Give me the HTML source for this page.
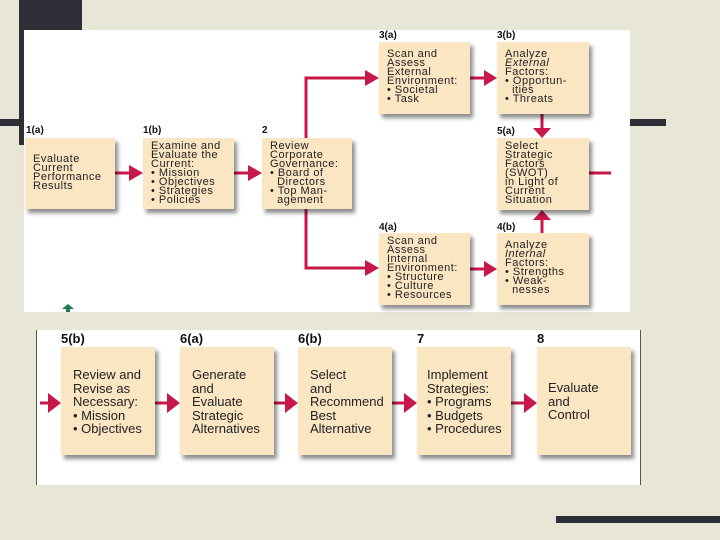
<!DOCTYPE html>
<html><head><meta charset="utf-8"><style>
body{margin:0;width:720px;height:540px;position:relative;overflow:hidden;background:#e8e6d7;font-family:"Liberation Sans",sans-serif;}
div{position:absolute;box-sizing:border-box}
.bar{background:#2e2f36}
.box{background:#fbe6c4;box-shadow:3px 4px 4px rgba(0,0,0,0.45);color:#222;}
.s{font-size:11px;line-height:9px;padding:6px 0 0 8px;letter-spacing:0.5px;white-space:nowrap}
.b{font-size:13px;line-height:13.5px;padding:0 0 0 12px;width:94px;height:108px}
.lbl{font-weight:bold;font-size:10px;color:#111}
.lb2{font-weight:bold;font-size:13px;color:#111}
</style></head><body>
<div class="bar" style="left:19px;top:0;width:63px;height:30px"></div>
<div class="bar" style="left:19px;top:0;width:6px;height:145px"></div>
<div class="bar" style="left:0;top:119px;width:666px;height:7px"></div>
<div class="bar" style="left:556px;top:516px;width:164px;height:7px"></div>

<div style="left:24px;top:30px;width:606px;height:282px;background:#fff"></div>
<div style="left:36px;top:330px;width:605px;height:155px;background:#fff;border-left:1.5px solid #555;border-right:1.5px solid #555"></div>

<svg width="720" height="540" style="position:absolute;left:0;top:0">
<g fill="none" stroke="#c8174a" stroke-width="3">
<path d="M306 138 V78 H370"/><path d="M306 209 V268 H370"/>
<path d="M115 173 H134"/><path d="M234 173 H253"/>
<path d="M470 78 H489"/><path d="M470 269 H489"/>
<path d="M542 114 V130"/><path d="M542 233 V218"/>
<path d="M589 173 H611"/>
<path d="M40 403 H52"/><path d="M154 403 H170"/><path d="M273 403 H288"/><path d="M392 403 H407"/><path d="M511 403 H527"/>
</g>
<g fill="#c8174a">
<polygon points="129,165 143,173 129,181"/><polygon points="248,165 262,173 248,181"/>
<polygon points="365,70 379,78 365,86"/><polygon points="365,260 379,268 365,276"/>
<polygon points="484,70 497,78 484,86"/><polygon points="484,261 497,269 484,277"/>
<polygon points="533,128 551,128 542,138"/><polygon points="533,220 551,220 542,210"/>
<polygon points="48,393 61,403 48,413"/><polygon points="167,393 180,403 167,413"/><polygon points="285,393 298,403 285,413"/><polygon points="404,393 417,403 404,413"/><polygon points="524,393 537,403 524,413"/>
</g>
<polygon points="62,309 68,304 74,309" fill="#1f7a50"/><rect x="66" y="308" width="4" height="4" fill="#1f7a50"/>
</svg>

<div class="lbl" style="left:26px;top:125px">1(a)</div>
<div class="lbl" style="left:143px;top:125px">1(b)</div>
<div class="lbl" style="left:262px;top:125px">2</div>
<div class="lbl" style="left:379px;top:30px">3(a)</div>
<div class="lbl" style="left:497px;top:30px">3(b)</div>
<div class="lbl" style="left:497px;top:126px">5(a)</div>
<div class="lbl" style="left:379px;top:222px">4(a)</div>
<div class="lbl" style="left:497px;top:222px">4(b)</div>

<div class="box s" style="left:25px;top:138px;width:90px;height:71px;padding-top:17px">Evaluate<br>Current<br>Performance<br>Results</div>
<div class="box s" style="left:143px;top:138px;width:91px;height:71px;padding-top:4px">Examine and<br>Evaluate the<br>Current:<br>• Mission<br>• Objectives<br>• Strategies<br>• Policies</div>
<div class="box s" style="left:262px;top:138px;width:90px;height:71px;padding-top:4px">Review<br>Corporate<br>Governance:<br>• Board of<br>&nbsp;&nbsp;Directors<br>• Top Man-<br>&nbsp;&nbsp;agement</div>
<div class="box s" style="left:379px;top:42px;width:91px;height:72px;padding-top:8px">Scan and<br>Assess<br>External<br>Environment:<br>• Societal<br>• Task</div>
<div class="box s" style="left:497px;top:42px;width:92px;height:72px;padding-top:8px">Analyze<br><i>External</i><br>Factors:<br>• Opportun-<br>&nbsp;&nbsp;ities<br>• Threats</div>
<div class="box s" style="left:497px;top:138px;width:92px;height:72px;padding-top:4px">Select<br>Strategic<br>Factors<br>(SWOT)<br>in Light of<br>Current<br>Situation</div>
<div class="box s" style="left:379px;top:233px;width:91px;height:72px;padding-top:4px">Scan and<br>Assess<br>Internal<br>Environment:<br>• Structure<br>• Culture<br>• Resources</div>
<div class="box s" style="left:497px;top:233px;width:92px;height:72px;padding-top:8px">Analyze<br><i>Internal</i><br>Factors:<br>• Strengths<br>• Weak-<br>&nbsp;&nbsp;nesses</div>

<div class="lb2" style="left:61px;top:331px">5(b)</div>
<div class="lb2" style="left:180px;top:331px">6(a)</div>
<div class="lb2" style="left:298px;top:331px">6(b)</div>
<div class="lb2" style="left:417px;top:331px">7</div>
<div class="lb2" style="left:537px;top:331px">8</div>

<div class="box b" style="left:61px;top:347px;padding-top:21px">Review and<br>Revise as<br>Necessary:<br>• Mission<br>• Objectives</div>
<div class="box b" style="left:180px;top:347px;padding-top:21px">Generate<br>and<br>Evaluate<br>Strategic<br>Alternatives</div>
<div class="box b" style="left:298px;top:347px;padding-top:21px">Select<br>and<br>Recommend<br>Best<br>Alternative</div>
<div class="box b" style="left:417px;top:347px;padding-top:21px;padding-left:10px">Implement<br>Strategies:<br>• Programs<br>• Budgets<br>• Procedures</div>
<div class="box b" style="left:537px;top:347px;padding-top:34px;padding-left:11px">Evaluate<br>and<br>Control</div>
</body></html>
